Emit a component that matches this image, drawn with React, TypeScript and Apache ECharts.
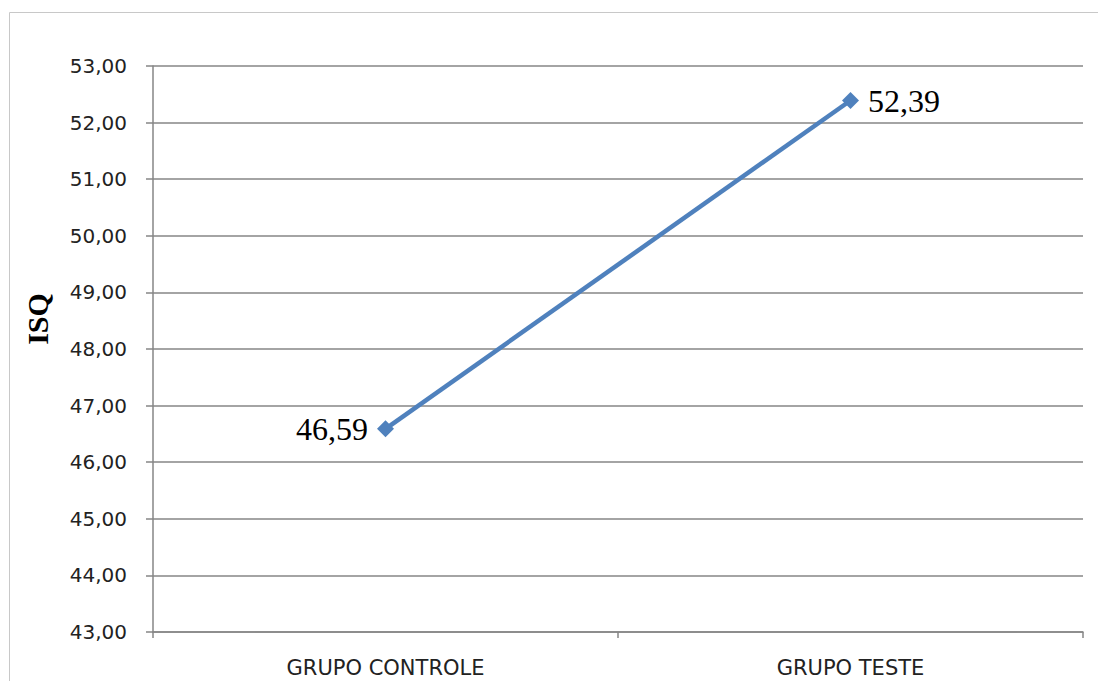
import React, { useEffect, useRef } from "react";
import * as echarts from "echarts";

const categories = ["GRUPO CONTROLE", "GRUPO TESTE"];
const values = [46.59, 52.39];
const yMin = 43;
const yMax = 53;
const yStep = 1;
const yName = "ISQ";
const labelPositions = ["left", "right"];

const fmt = (v: number) => v.toFixed(2).replace(".", ",");

export default function App() {
  const ref = useRef<HTMLDivElement>(null);
  useEffect(() => {
    if (!ref.current) return;
    const chart = echarts.init(ref.current, null, { renderer: "svg" });
    chart.setOption({
      animation: false,
      backgroundColor: "#ffffff",
      graphic: [
        {
          type: "rect",
          shape: { x: 9.5, y: 12.5, width: 1100, height: 700 },
          style: { fill: "none", stroke: "#c8c8c8", lineWidth: 1 },
          silent: true,
        },
        {
          type: "text",
          x: 37,
          y: 319,
          rotation: Math.PI / 2,
          style: {
            text: yName,
            fontFamily: "Liberation Serif",
            fontWeight: "bold",
            fontSize: 30,
            fill: "#000",
            align: "center",
            verticalAlign: "middle",
          },
        },
      ],
      grid: { left: 153, top: 66, right: 15, bottom: 49 },
      xAxis: {
        type: "category",
        data: categories,
        boundaryGap: true,
        axisLine: { lineStyle: { color: "#868686", width: 1.5 } },
        axisTick: { show: true, length: 6, lineStyle: { color: "#868686", width: 1.5 } },
        axisLabel: {
          margin: 25,
          color: "#222",
          fontFamily: "DejaVu Sans",
          fontSize: 21,
        },
      },
      yAxis: {
        type: "value",
        min: yMin,
        max: yMax,
        interval: yStep,
        axisLine: { show: true, lineStyle: { color: "#868686", width: 1.5 } },
        axisTick: { show: true, length: 7, lineStyle: { color: "#868686", width: 1.5 } },
        splitLine: { show: true, lineStyle: { color: "#868686", width: 1.5 } },
        axisLabel: {
          margin: 26,
          color: "#222",
          fontFamily: "DejaVu Sans",
          fontSize: 20,
          formatter: (v: number) => fmt(v),
        },
      },
      series: [
        {
          type: "line",
          data: values.map((v, i) => ({
            value: v,
            label: { position: labelPositions[i] },
          })),
          symbol: "diamond",
          symbolSize: 17,
          lineStyle: { color: "#4f81bd", width: 4.5 },
          itemStyle: { color: "#4f81bd" },
          label: {
            show: true,
            fontFamily: "Liberation Serif",
            fontSize: 32,
            color: "#000",
            distance: 9,
            formatter: (p: any) => fmt(p.value),
          },
        },
      ],
    });
    return () => chart.dispose();
  }, []);
  return (
    <div
      ref={ref}
      style={{ position: "fixed", left: 0, top: 0, width: 1098, height: 681 }}
    />
  );
}
